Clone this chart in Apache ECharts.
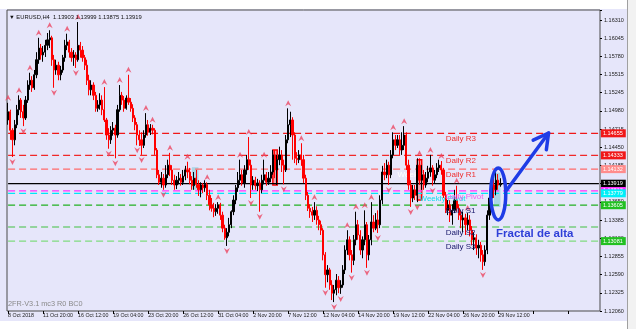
<!DOCTYPE html>
<html><head><meta charset="utf-8">
<script src="https://cdn.jsdelivr.net/npm/echarts@6/dist/echarts.min.js"></script>
<style>html,body{margin:0;padding:0;background:#fff}#c{width:636px;height:329px}</style>
</head><body><div id="c"></div>
<script>
// [open, close, low, high]  EURUSD H4
const candles = [
[1.1485,1.1497,1.1478,1.1510],[1.1497,1.1470,1.1456,1.1500],[1.1470,1.1456,1.1431,1.1473],[1.1456,1.1478,1.1448,1.1485],
[1.1478,1.1500,1.1473,1.1507],[1.1500,1.1514,1.1492,1.1521],[1.1514,1.1497,1.1488,1.1517],[1.1497,1.1488,1.1476,1.1507],
[1.1488,1.1514,1.1485,1.1520],[1.1514,1.1536,1.1510,1.1543],[1.1536,1.1543,1.1529,1.1554],[1.1543,1.1532,1.1526,1.1549],
[1.1532,1.1551,1.1529,1.1558],[1.1551,1.1573,1.1546,1.1584],[1.1573,1.1590,1.1567,1.1605],[1.1590,1.1580,1.1573,1.1596],
[1.1580,1.1584,1.1570,1.1593],[1.1584,1.1594,1.1577,1.1602],[1.1594,1.1602,1.1587,1.1612],[1.1602,1.1605,1.1590,1.1616],
[1.1605,1.1573,1.1564,1.1608],[1.1573,1.1558,1.1532,1.1580],[1.1558,1.1565,1.1551,1.1573],[1.1565,1.1551,1.1543,1.1570],
[1.1551,1.1558,1.1543,1.1564],[1.1558,1.1576,1.1554,1.1580],[1.1576,1.1594,1.1570,1.1602],[1.1594,1.1599,1.1587,1.1611],
[1.1599,1.1584,1.1576,1.1602],[1.1584,1.1576,1.1570,1.1590],[1.1576,1.1580,1.1564,1.1587],[1.1580,1.1573,1.1561,1.1584],
[1.1573,1.1594,1.1570,1.1628],[1.1594,1.1587,1.1576,1.1599],[1.1587,1.1576,1.1570,1.1593],[1.1576,1.1565,1.1558,1.1580],
[1.1565,1.1543,1.1536,1.1573],[1.1543,1.1529,1.1521,1.1551],[1.1529,1.1536,1.1521,1.1543],[1.1536,1.1521,1.1514,1.1540],
[1.1521,1.1502,1.1497,1.1526],[1.1502,1.1507,1.1497,1.1514],[1.1507,1.1514,1.1500,1.1524],[1.1514,1.1500,1.1492,1.1521],
[1.1500,1.1485,1.1482,1.1533],[1.1485,1.1463,1.1456,1.1488],[1.1463,1.1456,1.1443,1.1473],[1.1456,1.1470,1.1450,1.1476],
[1.1470,1.1473,1.1462,1.1482],[1.1473,1.1463,1.1429,1.1478],[1.1463,1.1500,1.1459,1.1507],[1.1500,1.1521,1.1497,1.1536],
[1.1521,1.1514,1.1507,1.1526],[1.1514,1.1502,1.1497,1.1520],[1.1502,1.1517,1.1500,1.1521],[1.1517,1.1511,1.1507,1.1551],
[1.1511,1.1502,1.1497,1.1517],[1.1502,1.1488,1.1482,1.1508],[1.1488,1.1478,1.1470,1.1492],[1.1478,1.1463,1.1448,1.1482],
[1.1463,1.1456,1.1447,1.1470],[1.1456,1.1448,1.1434,1.1467],[1.1448,1.1463,1.1444,1.1470],[1.1463,1.1478,1.1459,1.1495],
[1.1478,1.1467,1.1462,1.1485],[1.1467,1.1473,1.1463,1.1479],[1.1473,1.1470,1.1464,1.1478],[1.1470,1.1441,1.1434,1.1473],
[1.1441,1.1405,1.1400,1.1444],[1.1405,1.1394,1.1390,1.1412],[1.1394,1.1400,1.1386,1.1409],[1.1400,1.1390,1.1383,1.1406],
[1.1390,1.1405,1.1386,1.1419],[1.1405,1.1419,1.1400,1.1427],[1.1419,1.1412,1.1403,1.1437],[1.1412,1.1397,1.1390,1.1419],
[1.1397,1.1390,1.1383,1.1405],[1.1390,1.1397,1.1384,1.1403],[1.1397,1.1400,1.1391,1.1409],[1.1400,1.1394,1.1389,1.1406],
[1.1394,1.1403,1.1390,1.1412],[1.1403,1.1412,1.1397,1.1418],[1.1412,1.1409,1.1400,1.1424],[1.1409,1.1397,1.1391,1.1415],
[1.1397,1.1389,1.1383,1.1403],[1.1389,1.1400,1.1383,1.1409],[1.1400,1.1391,1.1386,1.1412],[1.1391,1.1383,1.1374,1.1397],
[1.1383,1.1390,1.1372,1.1394],[1.1390,1.1386,1.1378,1.1393],[1.1386,1.1391,1.1380,1.1397],[1.1391,1.1375,1.1368,1.1394],
[1.1375,1.1361,1.1353,1.1383],[1.1361,1.1356,1.1351,1.1371],[1.1356,1.1351,1.1343,1.1364],[1.1351,1.1356,1.1345,1.1362],
[1.1356,1.1361,1.1348,1.1365],[1.1361,1.1346,1.1339,1.1364],[1.1346,1.1327,1.1321,1.1351],[1.1327,1.1313,1.1310,1.1332],
[1.1313,1.1321,1.1301,1.1327],[1.1321,1.1332,1.1315,1.1342],[1.1332,1.1351,1.1327,1.1353],[1.1351,1.1368,1.1346,1.1375],
[1.1368,1.1386,1.1362,1.1390],[1.1386,1.1397,1.1380,1.1409],[1.1397,1.1405,1.1390,1.1427],[1.1405,1.1393,1.1389,1.1412],
[1.1393,1.1412,1.1386,1.1419],[1.1412,1.1427,1.1405,1.1434],[1.1427,1.1419,1.1412,1.1460],[1.1419,1.1390,1.1371,1.1427],
[1.1390,1.1397,1.1383,1.1403],[1.1397,1.1389,1.1383,1.1402],[1.1389,1.1393,1.1381,1.1399],[1.1393,1.1383,1.1351,1.1397],
[1.1383,1.1397,1.1378,1.1405],[1.1397,1.1405,1.1391,1.1427],[1.1405,1.1394,1.1389,1.1409],[1.1394,1.1400,1.1390,1.1409],
[1.1400,1.1409,1.1394,1.1419],[1.1409,1.1434,1.1405,1.1441],[1.1434,1.1412,1.1400,1.1441],[1.1412,1.1427,1.1390,1.1434],
[1.1427,1.1434,1.1419,1.1446],[1.1434,1.1419,1.1409,1.1441],[1.1419,1.1412,1.1391,1.1427],[1.1412,1.1456,1.1409,1.1463],
[1.1456,1.1478,1.1451,1.1502],[1.1478,1.1485,1.1460,1.1497],[1.1485,1.1463,1.1427,1.1489],[1.1463,1.1429,1.1422,1.1467],
[1.1429,1.1427,1.1419,1.1438],[1.1427,1.1434,1.1422,1.1441],[1.1434,1.1427,1.1418,1.1451],[1.1427,1.1400,1.1393,1.1434],
[1.1400,1.1375,1.1368,1.1405],[1.1375,1.1356,1.1352,1.1380],[1.1356,1.1351,1.1342,1.1362],[1.1351,1.1346,1.1336,1.1358],
[1.1346,1.1353,1.1339,1.1365],[1.1353,1.1339,1.1332,1.1359],[1.1339,1.1332,1.1324,1.1345],[1.1332,1.1324,1.1317,1.1338],
[1.1324,1.1288,1.1280,1.1327],[1.1288,1.1259,1.1240,1.1292],[1.1259,1.1266,1.1248,1.1273],[1.1266,1.1244,1.1237,1.1269],
[1.1244,1.1232,1.1222,1.1251],[1.1232,1.1237,1.1219,1.1244],[1.1237,1.1251,1.1229,1.1260],[1.1251,1.1240,1.1232,1.1257],
[1.1240,1.1244,1.1231,1.1251],[1.1244,1.1266,1.1240,1.1273],[1.1266,1.1295,1.1260,1.1302],[1.1295,1.1310,1.1288,1.1324],
[1.1310,1.1288,1.1280,1.1315],[1.1288,1.1280,1.1262,1.1295],[1.1280,1.1310,1.1273,1.1317],[1.1310,1.1332,1.1302,1.1351],
[1.1332,1.1317,1.1310,1.1339],[1.1317,1.1295,1.1288,1.1324],[1.1295,1.1310,1.1283,1.1315],[1.1310,1.1332,1.1302,1.1353],
[1.1332,1.1288,1.1269,1.1336],[1.1288,1.1310,1.1280,1.1317],[1.1310,1.1336,1.1302,1.1365],[1.1336,1.1327,1.1321,1.1346],
[1.1327,1.1339,1.1324,1.1349],[1.1339,1.1332,1.1320,1.1353],[1.1332,1.1368,1.1327,1.1375],[1.1368,1.1409,1.1362,1.1418],
[1.1409,1.1405,1.1397,1.1422],[1.1405,1.1419,1.1400,1.1427],[1.1419,1.1405,1.1390,1.1424],[1.1405,1.1434,1.1400,1.1441],
[1.1434,1.1456,1.1429,1.1467],[1.1456,1.1448,1.1441,1.1463],[1.1448,1.1456,1.1444,1.1463],[1.1456,1.1441,1.1434,1.1463],
[1.1441,1.1448,1.1434,1.1467],[1.1448,1.1463,1.1441,1.1476],[1.1463,1.1419,1.1412,1.1467],[1.1419,1.1390,1.1383,1.1427],
[1.1390,1.1371,1.1358,1.1397],[1.1371,1.1383,1.1365,1.1390],[1.1383,1.1375,1.1368,1.1390],[1.1375,1.1419,1.1365,1.1429],
[1.1419,1.1397,1.1390,1.1429],[1.1397,1.1405,1.1383,1.1419],[1.1405,1.1390,1.1383,1.1412],[1.1390,1.1400,1.1386,1.1409],
[1.1400,1.1409,1.1394,1.1418],[1.1409,1.1415,1.1402,1.1434],[1.1415,1.1397,1.1389,1.1419],[1.1397,1.1405,1.1393,1.1412],
[1.1405,1.1415,1.1400,1.1422],[1.1415,1.1419,1.1409,1.1427],[1.1419,1.1412,1.1405,1.1425],[1.1412,1.1375,1.1371,1.1415],
[1.1375,1.1353,1.1349,1.1380],[1.1353,1.1361,1.1346,1.1368],[1.1361,1.1346,1.1336,1.1368],[1.1346,1.1353,1.1332,1.1362],
[1.1353,1.1368,1.1349,1.1383],[1.1368,1.1356,1.1351,1.1389],[1.1356,1.1346,1.1339,1.1362],[1.1346,1.1339,1.1327,1.1353],
[1.1339,1.1342,1.1321,1.1351],[1.1342,1.1332,1.1317,1.1348],[1.1332,1.1339,1.1324,1.1349],[1.1339,1.1324,1.1315,1.1346],
[1.1324,1.1310,1.1302,1.1330],[1.1310,1.1313,1.1295,1.1321],[1.1313,1.1298,1.1288,1.1318],[1.1298,1.1302,1.1283,1.1310],
[1.1302,1.1288,1.1278,1.1307],[1.1288,1.1278,1.1266,1.1295],[1.1278,1.1295,1.1272,1.1302],[1.1295,1.1346,1.1289,1.1353],
[1.1346,1.1371,1.1339,1.1383],[1.1371,1.1390,1.1365,1.1403],[1.1390,1.1383,1.1371,1.1400],[1.1383,1.1397,1.1375,1.1409],
[1.1397,1.1390,1.1383,1.1406],[1.13903,1.13919,1.13875,1.13999]
];
const upFractals = [0,5,10,14,19,27,32,44,51,55,63,66,74,82,91,96,106,110,117,128,134,140,155,159,163,166,176,181,188,193,198,205,210];
const downFractals = [2,7,21,31,46,49,59,61,71,100,111,115,126,145,149,152,157,164,169,174,184,187,194,217];
const xTickLabels = ['8 Oct 2018','11 Oct 20:00','16 Oct 12:00','19 Oct 04:00','23 Oct 20:00','26 Oct 12:00','31 Oct 04:00','2 Nov 20:00','7 Nov 12:00','12 Nov 04:00','14 Nov 20:00','19 Nov 12:00','22 Nov 04:00','26 Nov 20:00','29 Nov 12:00'];
const yTickLabels = ['1.12060','1.12325','1.12590','1.12855','1.13120','1.13385','1.13650','1.13919','1.14185','1.14450','1.14715','1.14980','1.15245','1.15515','1.15780','1.16045','1.16310'];
const headerValues = ['1.13903','1.13999','1.13875','1.13919'];
const levelNames  = ['Daily R3','Daily R2','Daily R1','Price','Daily Pivot','Weekly Pivot','Daily S1','Daily S2','Daily S3'];
const levelValues = [1.14655,1.14333,1.14132,1.13919,1.13813,1.13779,1.13605,1.13287,1.13081];
const levelTags   = ['1.14655','1.14333','1.14132','1.13919','1.13813','1.13779','1.13605','','1.13081'];

// ---- styles ----
const Y_MIN = 1.12060, Y_STEP = 0.00265625, Y_MAX = 1.16456;
const SLOTS = 271;
const lvlStyle = [
  {c:'#F01818', bg:'#F01818', dash:[7,4], txt:'#EE3030'},
  {c:'#F02828', bg:'#F01818', dash:[7,4], txt:'#EE3030'},
  {c:'#FF6A6A', bg:'#FF8C8C', dash:[7,4], txt:'#EE3030'},
  {c:'#000000', bg:'#000000', dash:'solid', txt:null},
  {c:'#FF30FF', bg:'#FF30FF', dash:[7,4], txt:'#F060F0'},
  {c:'#00E6F6', bg:'#00F0F8', dash:[7,4], txt:'#10DCEC'},
  {c:'#22B022', bg:'#22C022', dash:[7,4], txt:'#18186A'},
  {c:'#40C040', bg:null, dash:[7,4], txt:'#18186A'},
  {c:'#80DC80', bg:'#22C022', dash:[7,4], txt:'#18186A'}
];
const cats = []; for (let i = 0; i < SLOTS; i++) cats.push(i);
const chart = echarts.init(document.getElementById('c'));
const FONT = 'Liberation Sans, Arial, sans-serif';
const upPath = 'path://M5,0 L10,9 L5,6 L0,9 Z';
const downPath = 'path://M0,0 L5,3 L10,0 L5,9 Z';

const levelSeries = levelValues.map((v, k) => ({
  type: 'line', data: [[0, v], [SLOTS - 1, v]], showSymbol: false, symbol: 'none', silent: true, z: 2,
  color: lvlStyle[k].c,
  lineStyle: {color: lvlStyle[k].c, type: lvlStyle[k].dash, width: 1.2},
  endLabel: lvlStyle[k].bg ? {show: true, formatter: levelTags[k], backgroundColor: lvlStyle[k].bg,
      color: '#fff', fontSize: 5.5, fontFamily: FONT, padding: [1, 3, 1, 2], distance: 2} : {show: false}
}));

chart.setOption({
  animation: false,
  backgroundColor: '#E6E6FA',
  grid: {left: 7, right: 36, top: 10, bottom: 18, show: true, borderColor: '#4A4A4A', borderWidth: 1},
  xAxis: {
    type: 'category', data: cats, boundaryGap: true,
    axisLine: {show: false},
    axisTick: {show: true, alignWithLabel: true, interval: (i) => i % 16 === 0, length: 3, lineStyle: {color: '#000'}},
    axisLabel: {interval: (i) => i % 16 === 0, formatter: (v, i) => xTickLabels[i / 16] || '', align: 'left',
      fontSize: 5.3, color: '#222', margin: 2, fontFamily: FONT},
    splitLine: {show: false}
  },
  yAxis: {
    type: 'value', position: 'right', min: Y_MIN, max: Y_MAX, interval: Y_STEP,
    axisLine: {show: false},
    axisTick: {show: true, length: 2, lineStyle: {color: '#000'}},
    axisLabel: {fontSize: 5.5, color: '#222', margin: 4, fontFamily: FONT,
      formatter: (v) => { const k = Math.round((v - Y_MIN) / Y_STEP); return Math.abs(v - (Y_MIN + k * Y_STEP)) < 1e-7 ? (yTickLabels[k] || '') : ''; }},
    splitLine: {show: false}
  },
  series: [
    {
      type: 'candlestick', data: candles, barWidth: 1.7,
      itemStyle: {color: '#000', color0: '#FF0000', borderColor: '#000', borderColor0: '#FF0000', borderWidth: 1},
      markArea: {silent: true, data: [
        [{coord: [84, 1.1416], itemStyle: {color: 'rgba(120,200,215,0.55)'}}, {coord: [87, 1.1383]}],
        [{coord: [222, 1.1408], itemStyle: {color: 'rgba(120,200,215,0.55)'}}, {coord: [225, 1.1358]}],
        [{coord: [121, 1.1441], itemStyle: {color: 'rgba(255,40,40,0.35)', borderColor: '#FF0000', borderWidth: 1.5}}, {coord: [123, 1.1390]}],
        [{coord: [187, 1.1427], itemStyle: {color: 'rgba(255,40,40,0.35)', borderColor: '#FF0000', borderWidth: 1.5}}, {coord: [189, 1.1368]}]
      ]},
      z: 3
    },
    {type: 'scatter', data: upFractals.map(i => [i, candles[i][3]]), symbol: upPath, symbolSize: [6, 6],
      symbolOffset: [0, -5], itemStyle: {color: '#EC4662'}, z: 4, silent: true},
    {type: 'scatter', data: downFractals.map(i => [i, candles[i][2]]), symbol: downPath, symbolSize: [6, 6],
      symbolOffset: [0, 5], itemStyle: {color: '#EC4662'}, z: 4, silent: true}
  ].concat(levelSeries)
});

// annotations positioned through the chart's own scales
const px = (i, p) => chart.convertToPixel({seriesIndex: 0}, [i, p]);
const g = [];
g.push({type: 'rect', shape: {x: 0, y: 0, width: 636, height: 9}, style: {fill: '#FFFFFF'}, z: 0});
g.push({type: 'rect', shape: {x: 0, y: 321, width: 636, height: 8}, style: {fill: '#FFFFFF'}, z: 0});
g.push({type: 'rect', shape: {x: 627, y: 0, width: 9, height: 329}, style: {fill: '#F2F2F2'}, z: 0});
g.push({type: 'line', shape: {x1: 627.5, y1: 0, x2: 627.5, y2: 329}, style: {stroke: '#A0A0A0', lineWidth: 1}, z: 0});
g.push({type: 'text', left: 9, top: 14, style: {text: '\u25BC EURUSD,H4  ' + headerValues.join(' '), fill: '#111', font: '5.8px ' + FONT}, z: 10});
g.push({type: 'text', left: 8, top: 300, style: {text: '2FR-V3.1 mc3 R0 BC0', fill: '#8A8A8A', font: '7.3px ' + FONT}, z: 10});
// level captions
const capIdx = [200, 200, 200, null, 200, 188, 200, 200, 200];
levelNames.forEach((n, k) => {
  if (capIdx[k] === null) return;
  const p = px(capIdx[k], levelValues[k]);
  g.push({type: 'text', x: p[0], y: p[1] + 1.5, style: {text: n, fill: lvlStyle[k].txt, font: '8px ' + FONT, textVerticalAlign: 'top'}, z: k === 4 ? 12 : 11});
});
const wr = px(178, levelValues[2]);
g.push({type: 'text', x: wr[0], y: wr[1] + 1.5, style: {text: 'Weekly R1', fill: '#FFFFFF', font: '8px ' + FONT, textVerticalAlign: 'top'}, z: 3});
// ellipse, arrow, caption
const ec = px(223.5, 1.1377);
g.push({type: 'ellipse', shape: {cx: ec[0], cy: ec[1], rx: 7.5, ry: 26}, style: {fill: 'none', stroke: '#1E3CE6', lineWidth: 3.5}, z: 13});
const a0 = px(228, 1.1383), a1 = px(247, 1.1466);
const ang = Math.atan2(a1[1] - a0[1], a1[0] - a0[0]);
const hl = 17, hw = 0.5;
const h1 = [a1[0] - hl * Math.cos(ang - hw), a1[1] - hl * Math.sin(ang - hw)];
const h2 = [a1[0] - hl * Math.cos(ang + hw), a1[1] - hl * Math.sin(ang + hw)];
g.push({type: 'polyline', shape: {points: [a0, a1]}, style: {stroke: '#1E3CE6', lineWidth: 3.5, lineCap: 'round'}, z: 13});
g.push({type: 'polyline', shape: {points: [h1, a1, h2]}, style: {fill: 'none', stroke: '#1E3CE6', lineWidth: 3.5, lineCap: 'round', lineJoin: 'round'}, z: 13});
const tc = px(223.3, 1.1327);
g.push({type: 'text', x: tc[0], y: tc[1], style: {text: 'Fractal de alta', fill: '#2F3FD8', font: 'bold 11.5px ' + FONT, textVerticalAlign: 'top'}, z: 13});
chart.setOption({graphic: {elements: g}});
</script>
</body></html>
